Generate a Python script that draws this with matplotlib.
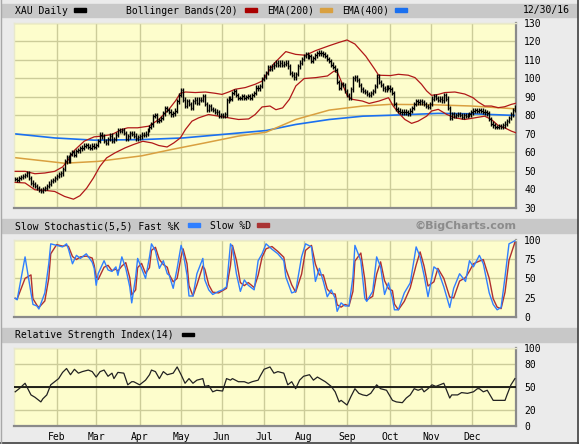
import numpy as np
import pandas as pd
import matplotlib
matplotlib.use('Agg')
import matplotlib.pyplot as plt
from matplotlib.patches import Rectangle
from matplotlib.lines import Line2D

W, H = 579, 444

# daily closes, Dec 31 2015 .. Dec 30 2016
close = [
    # Jan
    45.5, 45, 46, 46.5, 47, 47.5, 48.5, 46, 43.5, 42.5, 41.5, 40.5, 39.5, 39, 40, 40.5, 41.5, 43, 44.5, 45, 46,
    # Feb
    47, 48, 48.5, 51, 55, 57.5, 55.5, 59, 60, 58.5, 60.5, 61, 62, 62.5, 63.5, 64, 63, 62.5, 63.5, 63,
    # Mar
    64, 66, 69.5, 68.5, 66, 65, 67, 69, 66, 67, 69.5, 72, 71.5, 72, 70.5, 67, 68.5, 70.5, 70, 69, 67.5, 68,
    # Apr
    68.5, 69.5, 69.5, 70, 72, 73.5, 75, 79.5, 80, 77, 77.5, 78.5, 81, 84, 83, 82, 80.5, 81, 82.5, 87.5, 91,
    # May
    93.5, 88.5, 85, 87.5, 86, 84, 87.5, 88.5, 86.5, 88.5, 88.5, 90.5, 86, 83, 85, 83.5, 83, 82, 81.5, 79.5, 80,
    # Jun
    79.5, 80.5, 88, 89.5, 89, 92, 93, 91, 89.5, 89.5, 90.5, 89.5, 90, 90.5, 89.5, 91, 92, 95, 94.5, 96, 99.5, 101,
    # Jul
    103, 106, 105, 106.5, 107.5, 108.5, 107.5, 108.5, 107.5, 108, 108.5, 106.5, 103, 102, 100.5, 102.5, 106.5, 108.5, 110.5, 112,
    # Aug
    113, 111.5, 112, 109.5, 111, 112.5, 113.5, 114, 113.5, 113, 112, 110.5, 109.5, 107.5, 106, 104.5, 98, 95, 97, 96.5, 93, 91, 89.5,
    # Sep
    94, 100, 100.5, 99, 96.5, 94, 93, 92.5, 91.5, 91, 92, 93, 96, 101, 98, 96.5, 94.5, 94, 95, 95, 94,
    # Oct
    92, 86, 83.5, 82.5, 82, 81.5, 82, 81.5, 81, 82.5, 84, 86, 87.5, 87, 87.5, 87, 86, 85, 84.5, 86, 89,
    # Nov
    90.5, 89.5, 88.5, 89, 88, 91, 89, 84, 78.5, 80.5, 79.5, 80, 80.5, 80, 79, 80, 79.5, 80, 80.5, 81.5, 82.5,
    # Dec
    83, 82.5, 83, 82.5, 82, 81.5, 81, 78, 75.5, 74.5, 73.5, 73.5, 74, 73.5, 74.5, 75.5, 77, 78.5, 80.5, 83, 84.5,
]

month_names = ['Feb', 'Mar', 'Apr', 'May', 'Jun', 'Jul', 'Aug', 'Sep', 'Oct', 'Nov', 'Dec']
month_start = [21, 41, 63, 84, 104.5, 126, 146, 168, 190, 210.5, 231.5]

bb_up_days = [0, 5, 10, 15, 20, 24, 27, 30, 35, 40, 44, 49, 54, 57, 62, 67.7, 72.7, 77.8, 81.1, 83.6, 86.2,
              91.2, 96.3, 101.3, 104.7, 108.1, 111.4, 116.5, 121.5, 125, 131, 137, 142, 147, 152, 159, 164,
              168, 172, 177.5, 182, 184, 190, 194, 199, 202.4, 205.7, 208.3, 210.8, 214.2, 217.5, 222.6,
              227.6, 231.8, 234.4, 237.7, 241.1, 244.5, 247.8, 251.2, 253.5]
bb_upper = [49.6, 49.6, 48.3, 48.7, 49.6, 52, 56, 61, 66, 68.3, 68.7, 69.6, 72.3, 73.2, 73.2, 74.1, 77.7, 83.2,
            87.7, 91.9, 92.6, 92.3, 92.6, 91.9, 91.3, 92.6, 94.1, 95, 96.8, 98.5, 108, 114.5, 113, 112.5, 115,
            117.7, 119.5, 120.8, 118.6, 112, 105, 101.7, 101.5, 102.2, 101.7, 100.4, 96.8, 93.2, 90.8, 91.3,
            92.3, 92.6, 91.5, 89.5, 87.2, 85, 85, 84.1, 84.6, 85.9, 86.5]

bb_lo_days = [0, 5, 10, 15, 20, 25, 29.5, 32.8, 36.2, 39.6, 42.9, 46.3, 50.5, 55.6, 59.8, 64.6, 69.3, 72.7,
              76.9, 80.3, 83.6, 86.2, 89.5, 92.9, 97.9, 103, 108.1, 113.1, 118.2, 121.5, 125, 129, 132, 135.4,
              138.8, 142.1, 146.3, 152.2, 158.1, 161.5, 163.2, 165.7, 168.2, 170.8, 175.8, 179.2, 184.2, 189,
              191.4, 194, 197.3, 200.7, 204, 208.3, 210.8, 214.2, 218.4, 222.6, 227.6, 232.7, 237.7, 241.1,
              244.5, 247.8, 251.2, 253.5]
bb_lower = [43.6, 43.3, 39.6, 39.3, 38.7, 36, 34.5, 36.4, 40.5, 46, 52.3, 56.9, 59.6, 62.3, 64.1, 65.9, 65,
            63.6, 62.8, 65, 67.7, 72.3, 76.8, 78.6, 80.4, 79.5, 78.6, 77.7, 78, 80.4, 84.5, 85, 83, 84, 88.6,
            95.9, 99.9, 100.4, 101.3, 104, 103.1, 96.8, 90.4, 88.6, 87.7, 86.4, 87.7, 89.5, 85, 81.4, 77.7,
            75.6, 76.8, 79.5, 82.3, 83.2, 80.5, 78.6, 77.7, 78.6, 79.5, 77.7, 74.5, 73.2, 71.4, 70.5]

ema200_days = [0, 25, 42, 64, 79, 96, 113, 127, 142, 159, 176, 190, 211, 231, 253]
ema200 = [57, 54, 55, 58, 61.4, 65, 68.7, 70.8, 77.7, 82.8, 85, 85.9, 85.7, 85, 83.5]
ema400_days = [0, 20, 40, 64, 85, 105, 127, 142, 159, 176, 190, 214, 231, 253]
ema400 = [69.9, 67.7, 66.5, 66.8, 67.7, 69.6, 71.7, 75, 77.7, 79.5, 80, 81, 80.8, 79.9]

stoch_days = [0, 1, 5, 8, 9, 11, 12, 15, 17, 18, 21, 24, 26, 27, 29, 31, 33, 36, 39, 40, 41, 42, 45, 47, 49,
              51, 52, 54, 56, 58, 59, 61, 62, 64, 66, 68, 69, 71, 73, 75, 77, 78, 80, 82, 84, 85, 87, 88, 90,
              92, 95, 96, 98, 100, 103, 105, 107, 109, 110, 112, 114, 116, 118, 121, 123, 125, 127, 130, 133,
              136, 137, 140, 142, 145, 147, 150, 152, 154, 156, 158, 160, 162, 163, 165, 167, 169, 171, 172,
              175, 177, 178, 181, 183, 185, 187, 189, 191, 192, 194, 197, 200, 203, 205, 207, 209, 212, 214,
              217, 220, 222, 225, 228, 230, 232, 235, 237, 240, 242, 244, 246, 248, 250, 253]
stoch_k = [24, 22, 78, 31, 16, 14, 10, 31, 69, 95, 93, 91, 95, 88, 69, 80, 76, 82, 71, 63, 41, 56, 73, 61, 59,
           65, 54, 78, 63, 39, 18, 52, 76, 63, 50, 78, 95, 86, 63, 73, 56, 54, 37, 63, 93, 84, 54, 27, 27,
           56, 76, 48, 35, 29, 33, 35, 39, 95, 91, 56, 33, 48, 41, 35, 73, 82, 95, 88, 82,
           73, 52, 31, 33, 78, 95, 91, 46, 63, 46, 26, 35, 24, 7, 18, 14, 14, 52, 93,
           73, 24, 20, 33, 78, 65, 29, 44, 24, 9, 9, 31, 44, 91, 78, 54, 26, 65, 61,
           39, 12, 37, 56, 46, 73, 65, 80, 69, 31, 16, 9, 12, 52, 95, 99]

rsi_days = [0, 2, 5, 8, 10, 13, 14, 16, 18, 20, 22, 24, 26, 28, 30, 32, 34, 37, 39, 41, 43, 45, 47, 49, 50,
            52, 55, 57, 59, 60, 63, 66, 68, 69, 71, 73, 75, 77, 80, 82, 84, 86, 88, 90, 92, 95, 96, 98, 100,
            102, 105, 107, 109, 110, 113, 116, 118, 120, 123, 124, 126, 129, 131, 133, 136, 138, 140, 142,
            144, 146, 149, 151, 153, 157, 160, 162, 164, 165, 168, 170, 172, 174, 176, 178, 180, 183, 185,
            188, 191, 193, 196, 198, 200, 202, 204, 206, 207, 209, 211, 213, 215, 217, 220, 221, 224, 226,
            229, 232, 234, 235, 237, 239, 242, 245, 248, 249, 251, 253]
rsi = [44, 48, 55, 40, 37, 31, 35, 40, 53, 57, 61, 69, 74, 66, 73, 68, 70, 72, 70, 63, 70, 72, 64, 68, 61,
       69, 68, 53, 57, 57, 53, 59, 66, 72, 70, 61, 70, 66, 68, 76, 66, 55, 61, 55, 59, 61, 51, 52, 44,
       46, 45, 61, 59, 61, 57, 57, 55, 57, 59, 64, 73, 76, 68, 70, 68, 53, 57, 48,
       59, 64, 66, 59, 63, 57, 51, 44, 31, 33, 27, 38, 48, 42, 40, 39, 42, 53, 48,
       46, 33, 31, 30, 36, 40, 48, 46, 48, 44, 48, 53, 51, 53, 55, 36, 40, 40, 43,
       42, 44, 48, 48, 44, 46, 33, 33, 33, 40, 53, 61]

plt.rcParams['font.family'] = 'DejaVu Sans Mono'
plt.rcParams['font.size'] = 7

GRID = '#cccc99'
BG = '#fdfdcc'

fig = plt.figure(figsize=(W / 100, H / 100), dpi=100, facecolor='#ebebeb')


def rect(x0, y0, x1, y1):
    return [x0 / W, 1 - y1 / H, (x1 - x0) / W, (y1 - y0) / H]


def bar(y0, y1):
    fig.add_artist(Rectangle((2 / W, 1 - y1 / H), 575 / W, (y1 - y0) / H,
                             transform=fig.transFigure, color='#c8c8c8', zorder=0))


def swatch(x0, yc, color):
    fig.add_artist(Rectangle((x0 / W, 1 - (yc + 1.8) / H), 12 / W, 3.6 / H,
                             transform=fig.transFigure, color=color, zorder=2))


def label(x, yc, s, **kw):
    fig.text(x / W, 1 - yc / H, s, va='center', ha=kw.pop('ha', 'left'), **kw)


def style(ax, yticks, ylim):
    ax.set_facecolor(BG)
    ax.set_xlim(-0.6, 253.4)
    ax.set_ylim(*ylim)
    ax.set_yticks(yticks)
    ax.set_xticks(month_start)
    ax.yaxis.tick_right()
    ax.tick_params(length=0, pad=6, labelsize=7)
    ax.grid(color=GRID, lw=1)
    ax.set_axisbelow(True)
    for s in ('top', 'left'):
        ax.spines[s].set_color('#e8e8cc')
        ax.spines[s].set_linewidth(1)
    for s in ('bottom', 'right'):
        ax.spines[s].set_color('#8a8a8a')
        ax.spines[s].set_linewidth(1.6)


# title bars
bar(4, 17)
bar(219, 233)
bar(328, 342)

# ---------------- price panel
ax = fig.add_axes(rect(14, 23, 515.7, 207.5))
style(ax, range(30, 131, 10), (30, 130))
ax.set_xticklabels([])

days = np.arange(len(close))
c = np.array(close)
o = np.r_[c[0], c[:-1]]
hi = np.maximum(o, c) + 1.2
lo = np.minimum(o, c) - 1.2

ax.plot(ema400_days, ema400, color='#1a70f0', lw=1.2, zorder=2)
ax.plot(ema200_days, ema200, color='#d9a040', lw=1.1, zorder=2)
ax.plot(bb_up_days, bb_upper, color='#b01818', lw=0.9, zorder=3)
ax.plot(bb_lo_days, bb_lower, color='#b01818', lw=0.9, zorder=3)
ax.vlines(days, lo, hi, color='black', lw=1.0, zorder=4)
ax.hlines(c, days, days + 0.7, color='black', lw=1.0, zorder=4)

label(15, 10.5, 'XAU Daily')
swatch(74, 10, 'black')
label(125.7, 10.5, 'Bollinger Bands(20)')
swatch(245, 10, '#aa0000')
label(266.7, 10.5, 'EMA(200)')
swatch(320, 10, '#d9a040')
label(341.7, 10.5, 'EMA(400)')
swatch(395, 10, '#1a70f0')
label(523, 10.5, '12/30/16')

# ---------------- stochastic panel
ax2 = fig.add_axes(rect(14, 240, 515.7, 316.7))
style(ax2, [0, 25, 50, 75, 100], (0, 100))
ax2.set_xticklabels([])
slow_d = pd.Series(stoch_k).rolling(2, min_periods=1).mean()
ax2.plot(stoch_days, slow_d, color='#b03030', lw=1, zorder=3)
ax2.plot(stoch_days, stoch_k, color='#2f7fff', lw=1, zorder=4)

label(15, 226, 'Slow Stochastic(5,5) Fast %K')
swatch(188, 225, '#2f7fff')
label(210, 226, 'Slow %D')
swatch(257, 225, '#aa3333')
label(516, 226, '\u00a9BigCharts.com', ha='right', family='DejaVu Sans',
      fontweight='bold', fontsize=8, color='#8c8c8c')

# ---------------- RSI panel
ax3 = fig.add_axes(rect(14, 348.3, 515.7, 426))
style(ax3, [0, 20, 50, 80, 100], (0, 100))
ax3.set_xticklabels(month_names)
ax3.tick_params(axis='x', pad=4)
ax3.axhline(50, color='black', lw=1.2, zorder=3)
ax3.plot(rsi_days, rsi, color='#222222', lw=0.9, zorder=4)

label(15, 335, 'Relative Strength Index(14)')
swatch(181.7, 334.5, 'black')

# outer frame
fig.add_artist(Line2D([577.5 / W] * 2, [0, 1], transform=fig.transFigure, color='#404040', lw=1.2))
fig.add_artist(Line2D([0, 1], [1 - 443 / H] * 2, transform=fig.transFigure, color='#404040', lw=1.2))
fig.add_artist(Line2D([1 / W] * 2, [0, 1], transform=fig.transFigure, color='#a8a8a8', lw=1))

fig.savefig('out.png', dpi=100, facecolor=fig.get_facecolor())
